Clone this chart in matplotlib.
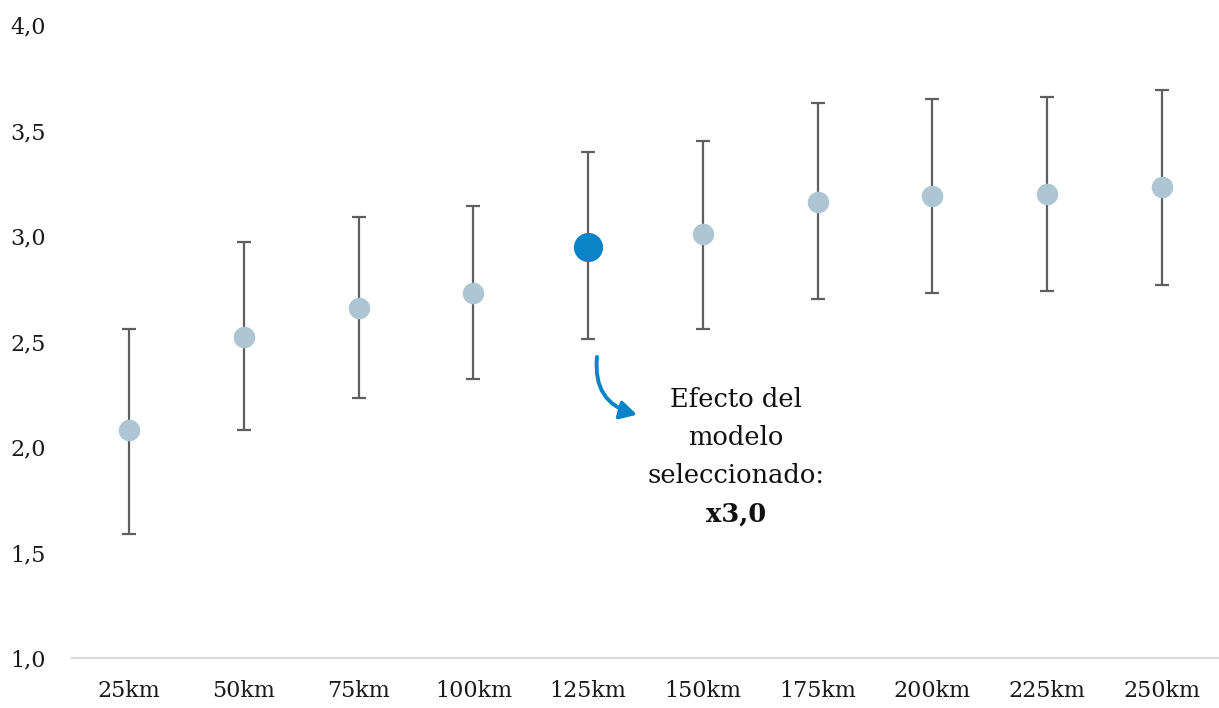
import matplotlib
matplotlib.use("Agg")
import matplotlib.pyplot as plt

categories = ["25km", "50km", "75km", "100km", "125km", "150km", "175km", "200km", "225km", "250km"]
effect = [2.08, 2.52, 2.66, 2.73, 2.95, 3.01, 3.16, 3.19, 3.20, 3.23]
upper = [2.56, 2.97, 3.09, 3.14, 3.40, 3.45, 3.63, 3.65, 3.66, 3.69]
lower = [1.59, 2.08, 2.23, 2.32, 2.51, 2.56, 2.70, 2.73, 2.74, 2.77]
selected = "125km"
yticks = [1.0, 1.5, 2.0, 2.5, 3.0, 3.5, 4.0]
ytick_labels = ["1,0", "1,5", "2,0", "2,5", "3,0", "3,5", "4,0"]
note_lines = ["Efecto del", "modelo", "seleccionado:"]
note_value = "x3,0"

plt.rcParams['font.family'] = ['DejaVu Serif']

fig = plt.figure(figsize=(12.19, 7.08), dpi=100)
ax = fig.add_axes([0.059, 0.0706, 0.941, 0.8941])

x = list(range(len(categories)))
err_lo = [e - l for e, l in zip(effect, lower)]
err_hi = [u - e for e, u in zip(effect, upper)]
ax.errorbar(x, effect, yerr=[err_lo, err_hi], fmt='none', ecolor='#5f5f5f',
            elinewidth=1.6, capsize=5, capthick=1.6, zorder=2)

sel = categories.index(selected)
for i in x:
    if i == sel:
        ax.plot(i, effect[i], 'o', ms=21, color='#0a84c8', mec='none', zorder=3)
    else:
        ax.plot(i, effect[i], 'o', ms=15.5, color='#aec6d3', mec='none', zorder=3)

ax.set_xlim(-0.5, len(categories) - 0.5)
ax.set_ylim(1.0, 4.0)
ax.set_xticks(x)
ax.set_xticklabels(categories, fontsize=16, color='#1a1a1a')
ax.set_yticks(yticks)
ax.set_yticklabels(ytick_labels, fontsize=16, color='#1a1a1a')
ax.tick_params(axis='both', length=0)
ax.tick_params(axis='x', pad=16)
ax.tick_params(axis='y', pad=19)
for s in ['top', 'right', 'left']:
    ax.spines[s].set_visible(False)
ax.spines['bottom'].set_color('#d9d9d9')
ax.spines['bottom'].set_linewidth(1.5)

ys = [2.223, 2.043, 1.863]
for line, yy in zip(note_lines, ys):
    ax.text(5.29, yy, line, ha='center', va='center', fontsize=18.5, color='#111111')
ax.text(5.29, 1.682, note_value, ha='center', va='center', fontsize=18.5,
        fontweight='bold', color='#111111')

ax.annotate("", xy=(4.45, 2.15), xytext=(4.08, 2.44),
            arrowprops=dict(arrowstyle='-|>,head_length=1.0,head_width=0.55',
                            color='#0a84c8', lw=2.8,
                            connectionstyle='arc3,rad=0.45'))

fig.savefig("out.png", dpi=100)
